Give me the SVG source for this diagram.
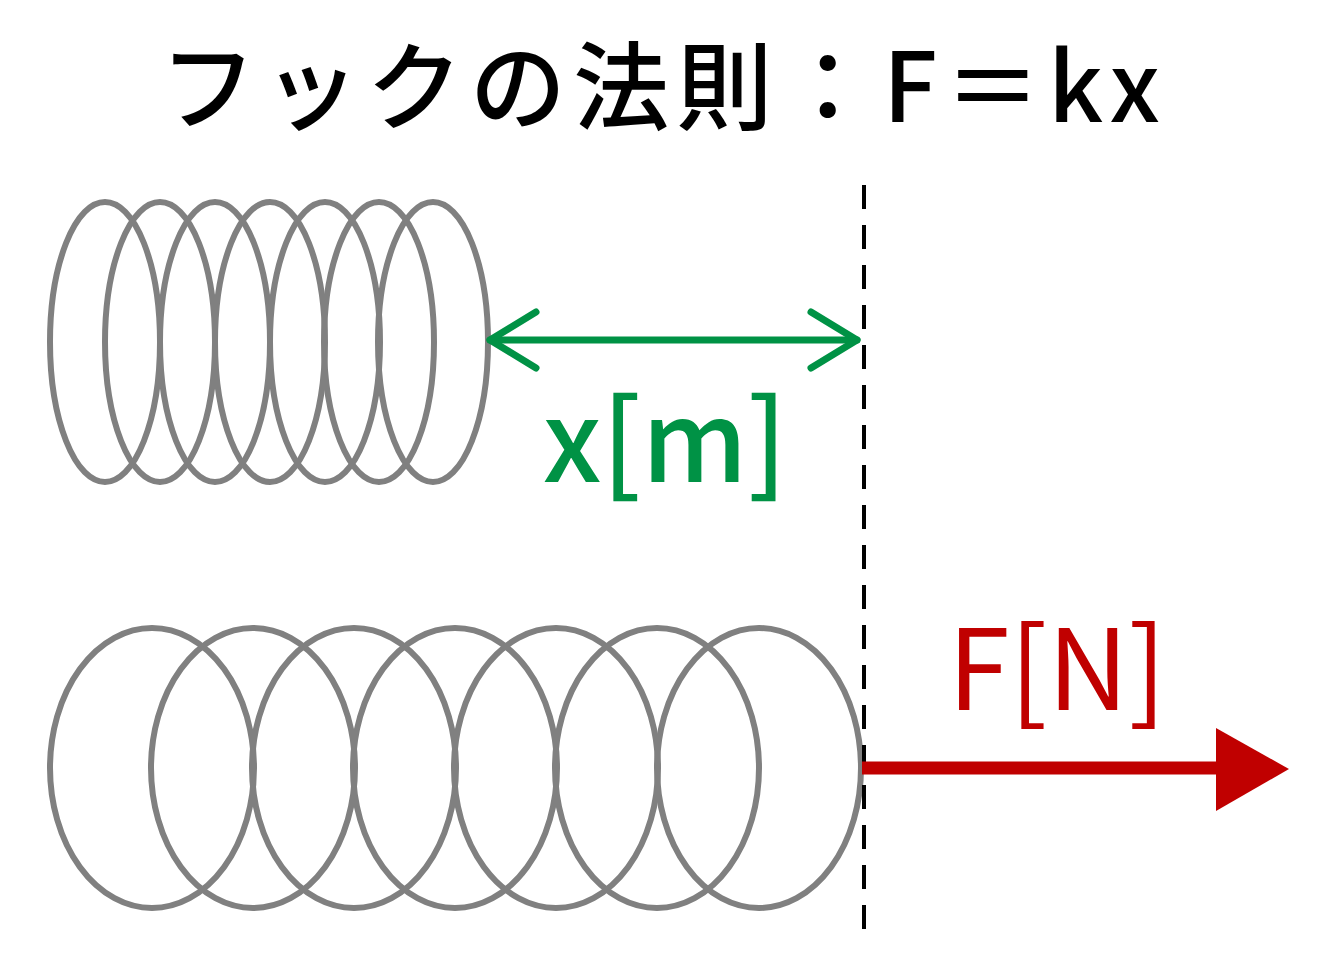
<svg xmlns="http://www.w3.org/2000/svg" width="1333" height="958" viewBox="0 0 1333 958">
<style>
.c{fill:none;stroke:#808080;stroke-width:6}
.t{font-family:"Noto Sans CJK JP","Noto Sans",sans-serif}
</style>
<rect width="1333" height="958" fill="#fff"/>
<text class="t" x="660" y="122" font-size="96" font-weight="500" text-anchor="middle" fill="#000" textLength="1000">フックの法則：F＝kx</text>
<g id="spring1">
<ellipse class="c" cx="105" cy="342" rx="55" ry="140"/>
<ellipse class="c" cx="160" cy="342" rx="55" ry="140"/>
<ellipse class="c" cx="215" cy="342" rx="55" ry="140"/>
<ellipse class="c" cx="270" cy="342" rx="55" ry="140"/>
<ellipse class="c" cx="325" cy="342" rx="55" ry="140"/>
<ellipse class="c" cx="379" cy="342" rx="55" ry="140"/>
<ellipse class="c" cx="433" cy="342" rx="55" ry="140"/>
</g>
<g id="spring2">
<ellipse class="c" cx="152" cy="768" rx="102" ry="140"/>
<ellipse class="c" cx="253" cy="768" rx="102" ry="140"/>
<ellipse class="c" cx="354" cy="768" rx="102" ry="140"/>
<ellipse class="c" cx="455" cy="768" rx="102" ry="140"/>
<ellipse class="c" cx="556" cy="768" rx="102" ry="140"/>
<ellipse class="c" cx="657" cy="768" rx="102" ry="140"/>
<ellipse class="c" cx="759" cy="768" rx="102" ry="140"/>
</g>
<g id="connectors">
<line x1="864" y1="185" x2="864" y2="938" stroke="#000" stroke-width="4" stroke-dasharray="24,16"/>
<g stroke="#009245" stroke-width="7" fill="none" stroke-linecap="round" stroke-linejoin="round">
<line x1="490" y1="340" x2="857" y2="340"/>
<polyline points="536,312 490,340 536,368"/>
<polyline points="811,312 857,340 811,368"/>
</g>
<line x1="862" y1="768" x2="1222" y2="768" stroke="#C00000" stroke-width="13"/>
<polygon points="1216,728 1289,769 1216,811" fill="#C00000"/>
</g>
<text class="t" x="665" y="482" font-size="112" font-weight="500" text-anchor="middle" fill="#009245">x[m]</text>
<text class="t" x="1057" y="710" font-size="112" text-anchor="middle" fill="#C00000">F[N]</text>
</svg>
